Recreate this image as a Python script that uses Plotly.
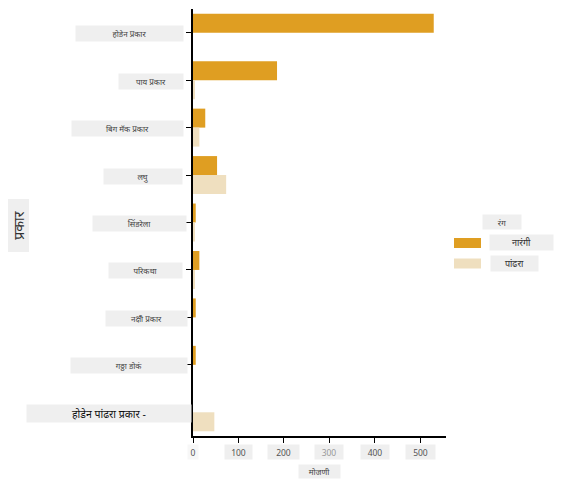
import plotly.graph_objects as go

# data
prakar = ["होडेन प्रकार", "पाय प्रकार", "बिग मॅक प्रकार", "लघु", "सिंडरेला",
          "परिकथा", "नक्षी प्रकार", "गठ्ठा डोकं", "होडेन पांढरा प्रकार"]
narangi = [530, 185, 27, 53, 6, 14, 6, 6, 0]
pandhra = [0, 3, 14, 73, 3, 4, 0, 0, 47]
x_ticks = [0, 100, 200, 300, 400, 500]

ORANGE = "#df9e22"
CREAM = "#efdfbf"
BOX = "#efefef"
FONT = "Noto Sans"

W, H = 564, 489
OFF = 8  # page body margin in the screenshot
PLOT_X0, PLOT_X1, PLOT_Y0, PLOT_Y1 = 193, 446, 9, 436  # plot area in the picture
L, T = PLOT_X0 - OFF, PLOT_Y0 - OFF
PW, PH = PLOT_X1 - PLOT_X0, PLOT_Y1 - PLOT_Y0
R, B = W - L - PW, H - T - PH


def px(x, y):
    # picture pixel -> paper coords
    return (x - PLOT_X0) / PW, (PLOT_Y1 - y) / PH


fig = go.Figure()
fig.add_trace(go.Bar(y=prakar, x=narangi, orientation="h", name="नारंगी",
                     marker=dict(color=ORANGE, line=dict(width=0))))
fig.add_trace(go.Bar(y=prakar, x=pandhra, orientation="h", name="पांढरा",
                     marker=dict(color=CREAM, line=dict(width=0))))

annos = []

# y category labels with grey boxes (left, right edge in px)
y_boxes = [(77, 184), (120, 184), (73, 184), (105, 183), (94, 187),
           (110, 183), (107, 188), (72, 188), (28, 192)]
for i, (cat, (x0, x1)) in enumerate(zip(prakar, y_boxes)):
    last = i == len(prakar) - 1
    annos.append(dict(
        x=0, y=cat, xref="x", yref="y", xanchor="right", yanchor="middle",
        xshift=-(PLOT_X0 - x1), yshift=-1,
        text=cat + (" -" if last else ""),
        showarrow=False, bgcolor=BOX, borderpad=0,
        width=x1 - x0, height=17 if last else 15,
        font=dict(family=FONT, size=10.5 if last else 8,
                  color="#111" if last else "#444")))

# x tick labels with grey boxes
x_boxes = [10, 27, 31, 28, 28, 29]
for v, bw in zip(x_ticks, x_boxes):
    annos.append(dict(
        x=v, y=px(0, 452)[1], xref="x", yref="paper",
        xanchor="center", yanchor="middle", text=str(v), showarrow=False,
        bgcolor=BOX if v else "#f7f7f7", borderpad=0, width=bw, height=14,
        font=dict(family=FONT, size=8.5,
                  color="#999" if v == 300 else "#555")))


def box_text(cx, cy, text, w, h, size, color="#444", angle=0):
    x, y = px(cx, cy)
    annos.append(dict(x=x, y=y, xref="paper", yref="paper", text=text,
                      xanchor="center", yanchor="middle", textangle=angle,
                      showarrow=False, bgcolor=BOX, borderpad=0,
                      width=w, height=h,
                      font=dict(family=FONT, size=size, color=color)))


# axis titles
box_text(319.5, 471.5, "मोजणी", 41, 13, 8)
box_text(17.5, 226, "प्रकार", 52, 21, 14, "#333", -90)

# manual legend
box_text(502, 222, "रंग", 38, 14, 8)
legend_items = [("नारंगी", ORANGE, 243, 521.5, 63), ("पांढरा", CREAM, 263.5, 514.5, 47)]
shapes = []
for name, col, cy, cx, bw in legend_items:
    box_text(cx, cy, name, bw, 15, 9, "#333")
    x0, y0 = px(454, cy - 5)
    x1, y1 = px(481, cy + 5)
    shapes.append(dict(type="rect", xref="paper", yref="paper",
                       x0=x0, x1=x1, y0=y1, y1=y0,
                       fillcolor=col, line=dict(width=0)))

fig.update_layout(
    width=W, height=H,
    margin=dict(l=L, r=R, t=T, b=B),
    barmode="group", bargap=0.2, bargroupgap=0,
    plot_bgcolor="white", paper_bgcolor="white",
    showlegend=False,
    annotations=annos, shapes=shapes,
    xaxis=dict(range=[0, 557], tickvals=x_ticks, showticklabels=False,
               ticks="outside", ticklen=5, tickcolor="black", tickwidth=1.2,
               showline=True, linecolor="black", linewidth=1.5,
               showgrid=False, zeroline=False),
    yaxis=dict(type="category", range=[8.5, -0.5], tickvals=prakar[:-1],
               showticklabels=False, ticks="outside", ticklen=5,
               tickcolor="black", tickwidth=1.2,
               showline=True, linecolor="black", linewidth=1.5,
               showgrid=False, zeroline=False),
)

fig.write_html("out.html")
